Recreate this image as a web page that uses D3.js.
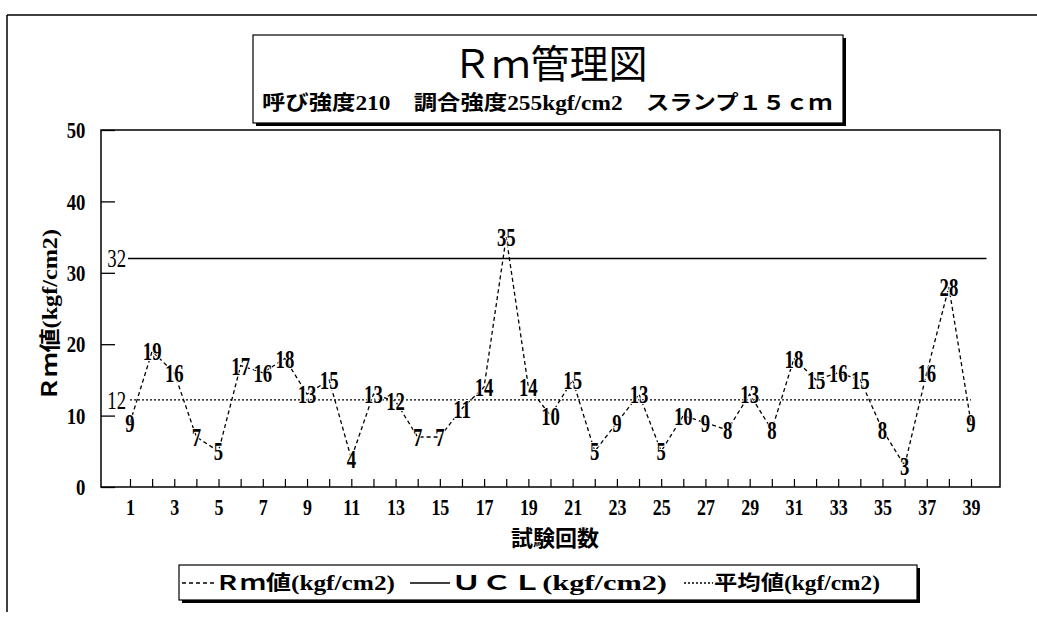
<!DOCTYPE html>
<html lang="ja">
<head>
<meta charset="utf-8">
<title>Rm管理図</title>
<script src="https://cdn.jsdelivr.net/npm/d3@7"></script>
<style>
  body { margin: 0; background: #fff; }
  svg { display: block; }
</style>
</head>
<body>
<svg id="chart" width="1037" height="619"></svg>
<script>
// values
const runs = [1, 2, 3, 4, 5, 6, 7, 8, 9, 10, 11, 12, 13, 14, 15, 16, 17, 18, 19, 20,
              21, 22, 23, 24, 25, 26, 27, 28, 29, 30, 31, 32, 33, 34, 35, 36, 37, 38, 39];
const rmValues = [9, 19, 16, 7, 5, 17, 16, 18, 13, 15, 4, 13, 12, 7, 7, 11, 14, 35, 14, 10,
                  15, 5, 9, 13, 5, 10, 9, 8, 13, 8, 18, 15, 16, 15, 8, 3, 16, 28, 9];
const uclValue = 32;
const meanValue = 12.2;
const uclSpan = [1, 39.7];
const meanSpan = [1, 39];
const yTicks = [0, 10, 20, 30, 40, 50];
const xLabelRuns = [1, 3, 5, 7, 9, 11, 13, 15, 17, 19, 21, 23, 25, 27, 29, 31, 33, 35, 37, 39];

const titleText = 'Ｒｍ管理図';
const subtitleText = '呼び強度210　調合強度255kgf/cm2　スランプ１５ｃｍ';
const yTitle = 'Ｒｍ値(kgf/cm2)';
const xTitle = '試験回数';
const legendItems = [
  {name: 'Ｒｍ値(kgf/cm2)', dash: '4,3', width: 1.3},
  {name: 'ＵＣＬ(kgf/cm2)', dash: null, width: 1.6},
  {name: '平均値(kgf/cm2)', dash: '2,2', width: 1.3}
];

const serif = '"Liberation Serif", "Noto Sans CJK JP", serif';
const cjk = '"Noto Sans CJK JP", "Liberation Serif", sans-serif';

const svg = d3.select('#chart');
const plot = {left: 101, right: 1000, top: 130, bottom: 487};

const x = d3.scaleLinear().domain([-0.31, 40.31]).range([plot.left, plot.right]);
const y = d3.scaleLinear().domain([0, 50]).range([plot.bottom, plot.top]);

// page frame (left and top edges of the scanned sheet)
svg.append('line').attr('x1', 7).attr('x2', 7).attr('y1', 15).attr('y2', 612)
  .attr('stroke', '#000').attr('stroke-width', 1.5);
svg.append('line').attr('x1', 7).attr('x2', 1037).attr('y1', 15).attr('y2', 15)
  .attr('stroke', '#000').attr('stroke-width', 1.5);

// title box with shadow
svg.append('rect').attr('x', 256).attr('y', 38).attr('width', 590).attr('height', 88).attr('fill', '#000');
svg.append('rect').attr('x', 253).attr('y', 35).attr('width', 590).attr('height', 88)
  .attr('fill', '#fff').attr('stroke', '#000').attr('stroke-width', 1.2);
svg.append('text').attr('x', 550).attr('y', 78)
  .attr('text-anchor', 'middle')
  .style('font-family', cjk).style('font-size', '39px')
  .text(titleText);
svg.append('text').attr('x', 262).attr('y', 110)
  .attr('textLength', 570).attr('lengthAdjust', 'spacingAndGlyphs')
  .style('font-family', serif).style('font-size', '20px').style('font-weight', 'bold')
  .text(subtitleText);

// plot frame
svg.append('rect').attr('x', plot.left).attr('y', plot.top)
  .attr('width', plot.right - plot.left).attr('height', plot.bottom - plot.top)
  .attr('fill', 'none').attr('stroke', '#000').attr('stroke-width', 1.5);

// y axis
const yAxis = svg.append('g').attr('transform', 'translate(' + plot.left + ',0)')
  .call(d3.axisLeft(y).tickValues(yTicks).tickSizeInner(-14).tickSizeOuter(0).tickPadding(20));
yAxis.select('.domain').remove();
yAxis.selectAll('line').attr('stroke-width', 1.3);
yAxis.selectAll('text')
  .attr('transform', 'scale(0.78,1)')
  .style('font-family', serif).style('font-size', '24px').style('font-weight', 'bold');

// x axis
const xAxis = svg.append('g').attr('transform', 'translate(0,' + plot.bottom + ')')
  .call(d3.axisBottom(x).tickValues(runs).tickSizeInner(-8).tickSizeOuter(0).tickPadding(12)
    .tickFormat(d => xLabelRuns.includes(d) ? d : ''));
xAxis.select('.domain').remove();
xAxis.selectAll('line').attr('stroke-width', 1.2);
xAxis.selectAll('text')
  .attr('transform', 'scale(0.78,1)')
  .style('font-family', serif).style('font-size', '23px').style('font-weight', 'bold');

// axis titles
svg.append('text')
  .attr('transform', 'translate(57,315) rotate(-90)')
  .attr('text-anchor', 'middle')
  .attr('textLength', 172).attr('lengthAdjust', 'spacingAndGlyphs')
  .style('font-family', serif).style('font-size', '21px').style('font-weight', 'bold')
  .text(yTitle);
svg.append('text').attr('x', 555).attr('y', 546)
  .attr('text-anchor', 'middle')
  .style('font-family', cjk).style('font-size', '22px').style('font-weight', 'bold')
  .text(xTitle);

// UCL and mean lines
svg.append('line')
  .attr('x1', x(uclSpan[0]) - 2).attr('x2', x(uclSpan[1]))
  .attr('y1', y(uclValue)).attr('y2', y(uclValue))
  .attr('stroke', '#000').attr('stroke-width', 1.6);
svg.append('line')
  .attr('x1', x(meanSpan[0])).attr('x2', x(meanSpan[1]))
  .attr('y1', y(meanValue)).attr('y2', y(meanValue))
  .attr('stroke', '#000').attr('stroke-width', 1.3).attr('stroke-dasharray', '2,2');

const refLabels = [{v: uclValue, t: '32'}, {v: meanValue, t: Math.round(meanValue)}];
svg.selectAll('.ref-label').data(refLabels).join('g')
  .attr('class', 'ref-label')
  .attr('transform', d => 'translate(' + (x(meanSpan[0]) - 4) + ',' + y(d.v) + ')')
  .append('text')
  .attr('transform', 'scale(0.75,1)')
  .attr('text-anchor', 'end').attr('dy', '0.35em')
  .style('font-family', serif).style('font-size', '25px')
  .text(d => d.t);

// Rm series
const pts = runs.map((r, i) => ({run: r, v: rmValues[i]}));
svg.append('path')
  .datum(pts)
  .attr('fill', 'none').attr('stroke', '#000').attr('stroke-width', 1.3)
  .attr('stroke-dasharray', '4,3')
  .attr('d', d3.line().x(d => x(d.run)).y(d => y(d.v)));

svg.selectAll('.pt-label').data(pts).join('g')
  .attr('class', 'pt-label')
  .attr('transform', d => 'translate(' + x(d.run) + ',' + y(d.v) + ')')
  .append('text')
  .attr('transform', 'scale(0.72,1)')
  .attr('text-anchor', 'middle').attr('dy', '0.35em')
  .attr('stroke', '#fff').attr('stroke-width', 2).attr('paint-order', 'stroke')
  .style('font-family', serif).style('font-size', '26px').style('font-weight', 'bold')
  .text(d => d.v);

// legend box with shadow
svg.append('rect').attr('x', 182).attr('y', 568).attr('width', 738).attr('height', 35).attr('fill', '#000');
svg.append('rect').attr('x', 179).attr('y', 565).attr('width', 738).attr('height', 35)
  .attr('fill', '#fff').attr('stroke', '#000').attr('stroke-width', 1.2);

const legendPos = [
  {x0: 182, x1: 214, tw: 180},
  {x0: 410, x1: 450, tw: 216},
  {x0: 684, x1: 713, tw: 166}
];
const leg = svg.selectAll('.legend-item').data(legendItems).join('g')
  .attr('class', 'legend-item');
leg.append('line')
  .attr('x1', (d, i) => legendPos[i].x0).attr('x2', (d, i) => legendPos[i].x1)
  .attr('y1', 583).attr('y2', 583)
  .attr('stroke', '#000').attr('stroke-width', d => d.width)
  .attr('stroke-dasharray', d => d.dash);
leg.append('text')
  .attr('x', (d, i) => legendPos[i].x1 + 1).attr('y', 590)
  .attr('textLength', (d, i) => legendPos[i].tw).attr('lengthAdjust', 'spacingAndGlyphs')
  .style('font-family', serif).style('font-size', '20px').style('font-weight', 'bold')
  .text(d => d.name);
</script>
</body>
</html>
